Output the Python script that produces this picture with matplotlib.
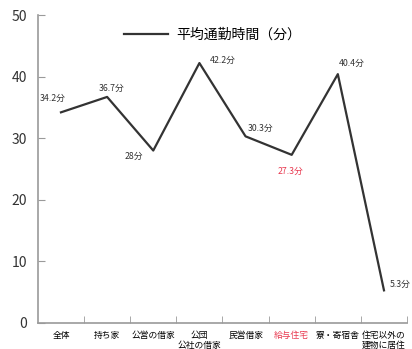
import numpy as np
import matplotlib.pyplot as plt

plt.rcParams['font.family'] = ['Noto Sans CJK JP', 'DejaVu Sans']

# data
categories = ['全体', '持ち家', '公営の借家', '公団\n公社の借家', '民営借家',
              '給与住宅', '寮・寄宿舎', '住宅以外の\n建物に居住']
minutes = [34.2, 36.7, 28.0, 42.2, 30.3, 27.3, 40.4, 5.3]
point_labels = ['34.2分', '36.7分', '28分', '42.2分', '30.3分', '27.3分', '40.4分', '5.3分']
label_offsets = [(-6, 10), (3, 6), (-14, -4), (17, 2), (11, 6), (-1, -12), (10, 8), (4, 4)]
highlight = 5
red = '#e8384f'
grey = '#9a9a9a'

fig = plt.figure(figsize=(4.12, 3.49), dpi=100)
ax = fig.add_axes([0.092, 0.0745, 0.896, 0.8825])

x = np.arange(len(categories))
ax.plot(x, minutes, color='#333333', linewidth=1.6, label='平均通勤時間（分）')

for i, (v, txt, off) in enumerate(zip(minutes, point_labels, label_offsets)):
    ha = 'left' if i == len(minutes) - 1 else 'center'
    ax.annotate(txt, (i, v), xytext=off, textcoords='offset points',
                ha=ha, va='center', fontsize=6.3,
                color=red if i == highlight else '#333333')

ax.set_xlim(-0.5, len(categories) - 0.5)
ax.set_ylim(0, 50)
ax.set_yticks([0, 10, 20, 30, 40, 50])
ax.tick_params(axis='y', direction='in', length=5, color=grey, labelsize=10,
               labelcolor='#333333', pad=8)

ax.set_xticks(x)
ax.set_xticklabels(categories, fontsize=6.3, linespacing=1.1)
ax.set_xticks(list(x[:-1] + 0.5) + [len(categories) - 0.5], minor=True)
ax.tick_params(axis='x', which='major', length=0, pad=6)
ax.tick_params(axis='x', which='minor', direction='in', length=5, color=grey)
ax.get_xticklabels()[highlight].set_color(red)

for s in ['top', 'right']:
    ax.spines[s].set_visible(False)
for s in ['left', 'bottom']:
    ax.spines[s].set_color(grey)
    ax.spines[s].set_linewidth(1.2)

ax.legend(loc='upper center', bbox_to_anchor=(0.473, 1.0), frameon=False,
          fontsize=10, handlelength=3.2, handletextpad=0.6)

fig.savefig('out.png', dpi=100)
